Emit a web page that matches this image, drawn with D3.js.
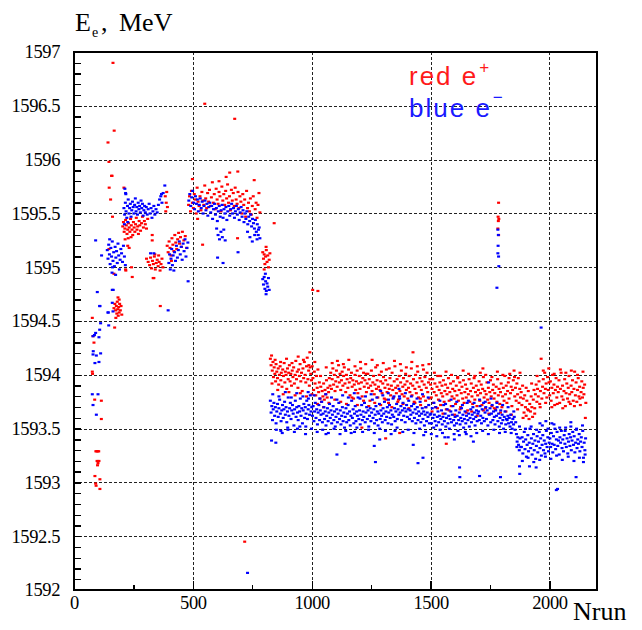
<!DOCTYPE html>
<html><head><meta charset="utf-8">
<script src="https://cdn.jsdelivr.net/npm/d3@7"></script>
<style>
html,body{margin:0;padding:0;background:#fff;}
svg{display:block;}
.tick text{font-family:"Liberation Serif","Times New Roman",serif;font-size:18.5px;fill:#000;}
</style></head>
<body>
<svg id="c" width="642" height="630"></svg>
<script>
// ---------------- data (Nrun, E in MeV) ----------------
const xTickLabels = [0, 500, 1000, 1500, 2000];
const yTickLabels = [1592, 1592.5, 1593, 1593.5, 1594, 1594.5, 1595, 1595.5, 1596, 1596.5, 1597];
const xMinorTicks = [250, 750, 1250, 1750];

// red (e+) : early runs and outliers
const redEarly = [[164,1596.90],[143,1596.16],[169,1596.27],[147,1595.98],[158,1595.85],[160,1595.85],[148,1595.74],[154,1595.63],[162,1595.47],
[77,1594.53],[84,1594.30],[80,1594.36],[77,1594.03],[78,1594.01],[87,1593.77],[115,1593.76],[115,1593.59],
[92,1593.29],[96,1593.29],[100,1593.29],[104,1593.29],[97,1593.20],[101,1593.18],[105,1593.20],[99,1593.16],[88,1593.06],[91,1592.99],[109,1593.03],[109,1592.94],[93,1592.97],
[168,1594.62],[172,1594.66],[175,1594.60],[178,1594.64],[180,1594.57],[182,1594.68],[184,1594.61],[186,1594.55],[188,1594.63],[190,1594.58],[192,1594.66],[195,1594.60],[198,1594.64],[201,1594.56],[176,1594.53],[171,1594.44],[190,1594.70],[185,1594.72],
[147,1595.17],[168,1594.94],[217,1594.98],[210,1595.74],[242,1595.00],[218,1594.97],[333,1594.90],[305,1595.08]];
const redCluster200 = [[205,1595.38],[208,1595.42],[211,1595.33],[214,1595.36],[217,1595.44],[220,1595.39],[223,1595.31],[226,1595.35],[229,1595.41],[232,1595.37],[235,1595.33],[238,1595.45],[241,1595.39],[244,1595.35],[247,1595.30],[250,1595.42],[253,1595.37],[256,1595.33],[259,1595.40],[262,1595.46],[265,1595.35],[268,1595.38],[271,1595.31],[274,1595.43],[277,1595.39],[280,1595.34],[284,1595.41],[288,1595.47],[292,1595.37],[296,1595.43],[300,1595.40],[305,1595.36],[310,1595.45],[240,1595.28],[228,1595.27],[215,1595.26],[245,1594.91],[226,1595.20],[232,1595.18]];
const redCluster350 = [[312,1595.05],[318,1595.02],[322,1595.09],[326,1594.99],[330,1595.06],[334,1595.03],[338,1595.10],[342,1594.98],[346,1595.04],[350,1595.07],[354,1595.01],[358,1595.05],[362,1594.97],[366,1595.03],[370,1595.08],[374,1595.00],[340,1595.12],[356,1595.11],[336,1594.90],[363,1594.64],[329,1595.30],[329,1595.25],
[392,1595.20],[396,1595.14],[400,1595.24],[404,1595.18],[408,1595.11],[412,1595.27],[416,1595.21],[420,1595.15],[424,1595.30],[428,1595.23],[432,1595.17],[436,1595.26],[440,1595.32],[444,1595.22],[448,1595.28],[452,1595.19],[456,1595.33],[462,1595.25],[468,1595.29],[474,1595.18],[410,1595.06],[384,1595.66],[388,1595.60],[390,1595.70],[393,1595.56],[386,1595.52]];
const redTop = [[482,1595.58],[486,1595.66],[490,1595.52],[494,1595.71],[498,1595.60],[502,1595.55],[506,1595.68],[510,1595.63],[514,1595.50],[518,1595.74],[522,1595.61],[526,1595.57],[530,1595.66],[534,1595.53],[538,1595.70],[542,1595.62],[546,1595.58],[550,1595.76],[554,1595.64],[558,1595.55],[562,1595.69],[566,1595.61],[570,1595.72],[574,1595.57],[578,1595.65],[582,1595.79],[586,1595.60],[590,1595.68],[594,1595.54],[598,1595.73],[602,1595.63],[606,1595.59],[610,1595.70],[614,1595.66],[618,1595.52],[622,1595.75],[626,1595.62],[630,1595.68],[634,1595.58],[638,1595.71],[642,1595.64],[646,1595.77],[650,1595.60],[654,1595.66],[658,1595.53],[662,1595.72],[666,1595.62],[670,1595.69],[674,1595.57],[678,1595.74],[682,1595.63],[686,1595.59],[690,1595.70],[694,1595.55],[698,1595.66],[702,1595.61],[706,1595.50],[710,1595.68],[714,1595.58],[718,1595.63],[722,1595.47],[726,1595.71],[730,1595.55],[734,1595.60],[738,1595.52],[742,1595.64],[746,1595.49],[750,1595.57],[754,1595.66],[758,1595.81],[762,1595.54],[766,1595.60],[770,1595.46],[774,1595.58],[778,1595.69],[782,1595.51],
[655,1595.88],[689,1595.89],[541,1595.21],[688,1595.27],[842,1595.41],[550,1596.52],[676,1596.38],[718,1592.45],[498,1595.82],[520,1595.45],[610,1595.80],[640,1595.84],
[794,1595.14],[797,1595.08],[800,1595.12],[803,1595.03],[806,1595.10],[809,1595.16],[812,1595.05],[815,1595.11],[818,1595.00],[821,1595.07],[824,1595.13],[800,1594.98],[808,1595.19],
[1004,1594.79],[1026,1594.78],[1786,1595.60],[1784,1595.47],[1787,1595.45],[1785,1595.43],[1783,1595.36],[1786,1595.30]];
const redPlateau = [[826,1594.15],[829,1594.09],[831,1594.18],[834,1594.04],[837,1594.12],[839,1593.98],[842,1594.07],[845,1594.01],[848,1593.94],[850,1594.10],
[853,1594.03],[856,1593.97],[859,1594.06],[861,1593.91],[864,1594.00],[867,1594.08],[870,1593.95],[872,1594.02],[875,1593.89],[878,1594.05],
[881,1593.99],[884,1594.11],[887,1593.93],[889,1594.03],[892,1594.00],[895,1593.87],[898,1594.06],[901,1593.96],[903,1594.02],[906,1594.09],
[909,1593.94],[912,1594.01],[915,1593.90],[918,1594.04],[921,1593.98],[924,1594.07],[927,1593.92],[930,1594.00],[933,1594.13],[936,1593.96],
[939,1594.03],[942,1593.88],[945,1594.05],[948,1593.99],[951,1594.10],[954,1593.94],[957,1594.02],[960,1593.85],[963,1594.06],[966,1593.97],
[969,1594.12],[972,1594.00],[975,1593.93],[978,1594.08],[981,1594.16],[984,1593.96],[987,1594.04],[990,1593.90],[992,1594.21],[993,1594.07],[996,1594.01],[999,1593.95],
[1002,1594.08],[1005,1593.97],[1008,1593.86],[1011,1594.03],[1014,1593.92],[1017,1593.81],[1020,1593.99],[1023,1593.88],[1026,1594.05],[1029,1593.84],
[1032,1593.93],[1035,1593.78],[1038,1593.89],[1041,1593.75],[1044,1593.85],[1047,1593.80],[1050,1593.92],[1053,1593.77],[1056,1593.86],[1059,1593.82],
[1062,1593.95],[1065,1593.79],[1068,1593.88],[1071,1593.84],[1074,1593.97],[1077,1593.90],[1080,1594.02],[1083,1593.87],[1086,1593.96],[1089,1594.06],
[1092,1593.91],[1095,1594.00],[1098,1593.85],[1101,1593.94],[1104,1594.04],[1107,1593.89],[1110,1593.98],[1113,1594.09],[1116,1593.93],[1119,1594.01],
[1122,1593.86],[1125,1593.95],[1128,1594.03],[1131,1593.90],[1134,1593.99],[1137,1594.07],[1140,1593.92],[1143,1593.84],[1146,1594.00],[1149,1593.96],
[1152,1593.88],[1155,1594.05],[1158,1593.93],[1161,1593.81],[1164,1593.97],[1167,1594.02],[1170,1593.89],[1173,1593.95],[1176,1593.78],[1179,1593.91],
[1182,1594.00],[1185,1593.86],[1188,1593.94],[1191,1594.04],[1194,1593.83],[1197,1593.92],
[1200,1593.99],[1203,1593.87],[1206,1594.06],[1209,1593.93],[1212,1593.80],[1215,1593.97],[1218,1594.02],[1221,1593.89],[1224,1593.95],[1227,1594.10],
[1230,1593.84],[1233,1593.92],[1236,1594.01],[1239,1593.88],[1242,1593.96],[1245,1593.76],[1248,1593.90],[1251,1594.04],[1254,1593.85],[1257,1593.93],
[1260,1593.99],[1263,1593.82],[1266,1593.91],[1269,1594.07],[1272,1593.87],[1275,1593.95],[1278,1593.79],[1281,1593.89],[1284,1594.00],[1287,1593.86],
[1290,1593.94],[1293,1594.03],[1296,1593.83],[1299,1593.92],[1302,1593.98],[1305,1593.78],[1308,1593.88],[1311,1593.95],[1314,1594.05],[1317,1593.84],
[1320,1593.91],[1323,1593.74],[1326,1593.87],[1329,1593.97],[1332,1593.81],[1335,1593.90],[1338,1594.02],[1341,1593.86],[1344,1593.79],[1347,1593.94],
[1350,1594.08],[1353,1593.88],[1356,1593.83],[1359,1593.96],[1362,1593.90],[1365,1593.77],[1368,1593.99],[1371,1593.85],[1374,1593.93],[1377,1594.04],
[1380,1593.82],[1383,1593.89],[1386,1593.97],[1389,1593.80],[1392,1593.91],[1395,1594.01],[1398,1593.86],[1401,1593.94],[1404,1593.78],[1407,1593.88],
[1410,1593.99],[1413,1593.84],[1416,1593.92],[1419,1594.06],[1422,1593.81],[1425,1593.90],[1428,1593.96],[1431,1593.75],[1434,1593.87],[1437,1594.00],
[1440,1593.83],[1443,1593.93],[1446,1594.03],[1449,1593.79],[1452,1593.89],[1455,1593.97],[1458,1593.72],[1461,1593.86],[1464,1593.94],[1467,1594.09],
[1470,1593.80],[1473,1593.91],[1476,1593.98],[1479,1593.76],[1482,1593.88],[1485,1594.02],[1488,1593.84],[1491,1593.93],[1494,1593.78],[1497,1593.96],
[1426,1594.21],[1311,1593.41],[1370,1593.46],[1211,1593.51],
[1500,1593.91],[1503,1593.79],[1506,1593.87],[1509,1593.96],[1512,1593.74],[1515,1593.84],[1518,1593.92],[1521,1593.70],[1524,1593.81],[1527,1593.89],
[1530,1593.99],[1533,1593.77],[1536,1593.86],[1539,1593.93],[1542,1593.72],[1545,1593.83],[1548,1593.90],[1551,1593.80],[1554,1593.95],[1557,1593.75],
[1560,1593.85],[1563,1593.91],[1566,1593.68],[1569,1593.82],[1572,1593.88],[1575,1593.97],[1578,1593.76],[1581,1593.84],[1584,1593.92],[1587,1593.71],
[1590,1593.80],[1593,1593.87],[1596,1593.94],[1599,1593.78],[1602,1593.85],[1605,1593.73],[1608,1593.90],[1611,1593.81],[1614,1593.98],[1617,1593.76],
[1620,1593.86],[1623,1593.93],[1626,1593.70],[1629,1593.83],[1632,1593.89],[1635,1593.78],[1638,1593.95],[1641,1593.74],[1644,1593.84],[1647,1593.91],
[1650,1593.79],[1653,1593.87],[1656,1593.67],[1659,1593.82],[1662,1593.96],[1665,1593.75],[1668,1593.85],[1671,1593.92],[1674,1593.80],[1677,1593.73],
[1680,1593.88],[1683,1593.97],[1686,1593.77],[1689,1593.84],[1692,1593.90],[1695,1593.71],[1698,1593.81],[1566,1593.36],[1720,1594.06],
[1701,1593.86],[1704,1593.94],[1707,1593.76],[1710,1593.83],[1713,1593.91],[1716,1593.72],[1719,1593.87],[1722,1593.98],[1725,1593.79],[1728,1593.85],
[1731,1593.69],[1734,1593.82],[1737,1593.93],[1740,1593.77],[1743,1593.88],[1746,1593.74],[1749,1593.84],[1752,1593.95],[1755,1593.80],[1758,1593.71],
[1761,1593.86],[1764,1593.91],[1767,1593.78],[1770,1593.83],[1773,1593.68],[1776,1593.89],[1779,1593.75],[1782,1593.96],[1785,1593.81],[1788,1593.87],
[1791,1593.73],[1794,1593.84],[1797,1593.92],[1800,1593.70],[1803,1593.80],[1806,1593.88],[1809,1593.76],[1812,1593.99],[1815,1593.82],[1818,1593.90],
[1821,1593.74],[1824,1593.85],[1827,1593.93],[1830,1593.78],[1833,1594.01],[1836,1593.83],[1839,1593.89],[1842,1593.71],[1845,1593.86],[1848,1593.95],
[1851,1594.04],[1854,1593.80],[1857,1593.88],[1860,1593.76],[1863,1593.92],[1866,1593.82],[1869,1593.97],[1872,1593.74],[1875,1593.87],[1878,1593.79],
[1881,1593.84],[1884,1593.72],[1887,1593.90],[1890,1593.78],[1893,1593.65],[1896,1593.81],[1899,1593.70],[1902,1593.62],[1905,1593.76],[1908,1593.68],
[1911,1593.85],[1914,1593.59],[1917,1593.73],[1920,1593.66],[1923,1593.80],[1926,1593.70],[1929,1593.61],[1932,1593.77],[1935,1593.86],[1938,1593.69],
[1941,1593.82],[1944,1593.91],[1947,1593.75],[1950,1593.87],[1953,1593.80],[1956,1593.94],[1959,1593.73],[1962,1593.85],[1965,1594.15],[1968,1593.78],
[1971,1593.89],[1974,1593.96],[1977,1593.83],[1980,1594.02],[1983,1593.87],[1986,1593.92],[1989,1593.79],[1992,1593.98],[1995,1593.86],[1998,1593.93],
[2001,1593.81],[2004,1593.94],[2007,1593.76],[2010,1593.88],[2013,1594.00],[2016,1593.83],[2019,1593.91],[2022,1593.72],[2025,1593.86],[2028,1593.97],
[2031,1593.79],[2034,1593.89],[2037,1593.84],[2040,1593.95],[2043,1593.74],[2046,1593.87],[2049,1594.02],[2052,1593.80],[2055,1593.90],[2058,1593.77],
[2061,1593.85],[2064,1593.96],[2067,1593.71],[2070,1593.83],[2073,1593.92],[2076,1593.78],[2079,1593.88],[2082,1593.99],[2085,1593.82],[2088,1593.73],
[2091,1593.90],[2094,1593.84],[2097,1593.95],[2100,1593.76],[2103,1593.87],[2106,1594.03],[2109,1593.81],[2112,1593.93],[2115,1593.75],[2118,1593.86],
[2121,1593.97],[2124,1593.80],[2127,1593.89],[2130,1593.72],[2133,1593.84],[2136,1593.94],[2139,1593.79],[2142,1593.88],[2145,1593.82],[2148,1593.91],[2151,1593.60]];
const redPlateauExtra = [[833,1593.92],[846,1594.14],[857,1593.86],[869,1594.12],[880,1593.82],[894,1594.15],[904,1593.84],[917,1594.11],[930,1593.81],[943,1594.17],[952,1593.83],[965,1594.14],[978,1593.80],[988,1594.09],[1001,1593.82],[1013,1594.12],[1024,1593.73],[1037,1593.99],[1050,1593.70],[1061,1594.07],[1072,1593.74],[1086,1594.11],[1097,1593.77],[1108,1594.13],[1122,1593.75],[1133,1594.10],[1146,1593.73],[1156,1594.14],[1169,1593.79],[1182,1594.08],[1192,1593.72],[1205,1594.12],[1218,1593.76],[1229,1594.01],[1240,1593.71],[1254,1594.14],[1265,1593.74],[1276,1594.09],[1290,1593.72],[1301,1594.11],[1312,1593.77],[1326,1594.06],[1337,1593.70],[1348,1594.13],[1362,1593.75],[1373,1594.10],[1384,1593.73],[1398,1594.07],[1409,1593.69],[1421,1594.12],[1434,1593.74],[1444,1594.08],[1457,1593.78],[1470,1594.05],[1480,1593.70],[1493,1594.10],[1506,1593.66],[1516,1594.02],[1529,1593.69],[1542,1593.99],[1552,1593.64],[1565,1594.03],[1578,1593.67],[1588,1594.00],[1601,1593.63],[1614,1593.97],[1624,1593.68],[1637,1594.04],[1650,1593.65],[1660,1594.01],[1673,1593.66],[1686,1593.99],[1696,1593.62],[1709,1594.02],[1722,1593.67],[1732,1594.00],[1745,1593.64],[1758,1593.98],[1768,1593.69],[1781,1594.03],[1794,1593.65],[1804,1594.00],[1817,1593.66],[1830,1593.97],[1840,1593.63],[1853,1593.98],[1866,1593.68],[1876,1594.02],[1889,1593.60],[1902,1593.88],[1912,1593.67],[1925,1593.92],[1938,1593.64],[1948,1593.99],[1961,1593.70],[1974,1594.04],[1984,1593.74],[1997,1594.06],[2010,1593.70],[2020,1594.01],[2033,1593.73],[2046,1594.05],[2056,1593.69],[2069,1594.02],[2082,1593.75],[2092,1594.04],[2105,1593.71],[2118,1594.00],[2128,1593.78],[2141,1594.03],[2153,1593.74]];

// blue (e-)
const blueEarly = [[108,1594.64],[143,1594.58],[164,1594.59],[396,1594.60],[112,1594.48],[146,1594.46],[108,1594.42],[91,1594.39],[80,1594.36],[105,1594.35],[81,1594.22],[80,1594.19],[94,1594.18],[112,1594.20],[105,1594.12],[88,1594.11],[77,1593.82],[101,1593.82],[80,1593.72],[94,1593.63],
[91,1595.25],[116,1595.11],[98,1594.77],[109,1594.64],[161,1594.79],[161,1594.67],[162,1595.00],[165,1594.79],[144,1594.58],[86,1594.37],
[140,1595.16],[143,1595.08],[146,1595.21],[149,1595.12],[152,1595.03],[155,1595.18],[158,1595.10],[161,1595.24],[164,1595.06],[167,1595.14],[170,1595.01],[173,1595.19],[176,1595.09],[179,1595.15],[182,1595.04],[185,1595.22],[188,1595.11],[191,1594.98],[194,1595.07],[197,1595.17],[200,1595.13],[204,1595.05],[208,1595.20],[212,1595.10],[216,1595.02],[150,1595.26],[160,1594.95],[175,1594.93]];
const blueCluster250 = [[210,1595.55],[213,1595.49],[216,1595.60],[219,1595.52],[222,1595.46],[225,1595.57],[228,1595.63],[231,1595.50],[234,1595.55],[237,1595.59],[240,1595.47],[243,1595.53],[246,1595.61],[249,1595.56],[252,1595.50],[255,1595.58],[258,1595.64],[261,1595.52],[264,1595.56],[267,1595.49],[270,1595.60],[273,1595.54],[276,1595.57],[279,1595.51],[282,1595.62],[285,1595.55],[288,1595.59],[291,1595.48],[294,1595.53],[297,1595.57],[300,1595.51],[304,1595.56],[308,1595.49],[312,1595.54],[316,1595.59],[320,1595.50],[324,1595.55],[328,1595.46],[332,1595.52],[336,1595.57],[340,1595.49],[345,1595.54],[350,1595.51],[355,1595.58],[360,1595.63],[365,1595.66],[370,1595.60],[375,1595.69],[382,1595.76],[368,1595.68],[214,1595.73],[218,1595.68],[217,1595.69],[212,1595.40],[226,1595.42],[322,1595.13],[336,1595.13],
[399,1595.04],[402,1595.12],[405,1594.98],[408,1595.08],[411,1595.17],[414,1595.02],[417,1595.11],[420,1594.97],[423,1595.14],[427,1595.06],[431,1595.20],[435,1595.09],[439,1595.16],[443,1595.24],[447,1595.12],[451,1595.19],[455,1595.07],[459,1595.22],[463,1595.15],[467,1595.26],[471,1595.10],[475,1595.18],[479,1595.23],[480,1594.87]];
const blueTop = [[483,1595.62],[487,1595.68],[491,1595.57],[495,1595.65],[499,1595.71],[503,1595.60],[507,1595.54],[511,1595.66],[515,1595.59],[519,1595.63],[523,1595.52],[527,1595.58],[531,1595.64],[535,1595.55],[539,1595.61],[543,1595.50],[547,1595.57],[551,1595.62],[555,1595.53],[559,1595.59],[563,1595.48],[567,1595.56],[571,1595.60],[575,1595.51],[579,1595.57],[583,1595.45],[587,1595.54],[591,1595.59],[595,1595.49],[599,1595.55],[603,1595.43],[607,1595.52],[611,1595.57],[615,1595.47],[619,1595.53],[623,1595.58],[627,1595.46],[631,1595.54],[635,1595.50],[639,1595.56],[643,1595.44],[647,1595.52],[651,1595.57],[655,1595.48],[659,1595.54],[663,1595.59],[667,1595.50],[671,1595.55],[675,1595.46],[679,1595.52],[683,1595.57],[687,1595.49],[691,1595.54],[695,1595.44],[699,1595.51],[703,1595.56],[707,1595.47],[711,1595.53],[715,1595.42],[719,1595.50],[723,1595.45],[727,1595.52],[731,1595.40],[735,1595.47],[739,1595.43],[743,1595.49],[747,1595.38],[751,1595.45],[755,1595.41],[759,1595.36],[763,1595.44],[767,1595.33],[771,1595.40],[775,1595.30],[779,1595.37],[782,1595.27],
[600,1595.36],[606,1595.30],[612,1595.26],[618,1595.33],[624,1595.28],[630,1595.35],[636,1595.25],[730,1595.33],[740,1595.28],[750,1595.24],[760,1595.30],[770,1595.26],[776,1595.35],
[690,1595.14],[604,1595.09],[627,1595.04],[730,1592.16],
[794,1594.89],[797,1594.84],[800,1594.91],[803,1594.80],[806,1594.87],[809,1594.78],[812,1594.85],[815,1594.82],[818,1594.90],[821,1594.79],[805,1594.94],[808,1594.75],
[1783,1595.35],[1785,1595.30],[1784,1595.20],[1783,1595.13],[1786,1595.10],[1787,1595.01],[1779,1594.81],[1965,1594.44]];
const bluePlateau = [[826,1593.76],[829,1593.65],[832,1593.71],[835,1593.58],[838,1593.68],[841,1593.74],[844,1593.62],[847,1593.70],[850,1593.55],[853,1593.66],
[856,1593.73],[859,1593.61],[862,1593.69],[865,1593.77],[868,1593.64],[871,1593.57],[874,1593.67],[877,1593.72],[880,1593.60],[883,1593.68],
[886,1593.75],[889,1593.63],[892,1593.70],[895,1593.56],[898,1593.66],[901,1593.79],[904,1593.62],[907,1593.69],[910,1593.74],[913,1593.59],
[916,1593.67],[919,1593.72],[922,1593.64],[925,1593.53],[928,1593.68],[931,1593.76],[934,1593.61],[937,1593.70],[940,1593.65],[943,1593.58],
[946,1593.71],[949,1593.66],[952,1593.78],[955,1593.62],[958,1593.69],[961,1593.55],[964,1593.67],[967,1593.73],[970,1593.60],[973,1593.70],
[976,1593.64],[979,1593.76],[982,1593.59],[985,1593.68],[988,1593.72],[991,1593.63],[994,1593.81],[997,1593.66],[1000,1593.70],
[831,1593.39],[849,1593.37],[870,1593.48],[900,1593.49],[940,1593.50],[975,1593.52],[985,1593.84],
[1003,1593.62],[1006,1593.71],[1009,1593.57],[1012,1593.66],[1015,1593.74],[1018,1593.60],[1021,1593.68],[1024,1593.54],[1027,1593.65],[1030,1593.72],
[1033,1593.58],[1036,1593.67],[1039,1593.63],[1042,1593.75],[1045,1593.56],[1048,1593.64],[1051,1593.70],[1054,1593.59],[1057,1593.66],[1060,1593.53],
[1063,1593.62],[1066,1593.69],[1069,1593.57],[1072,1593.65],[1075,1593.73],[1078,1593.60],[1081,1593.67],[1084,1593.55],[1087,1593.63],[1090,1593.71],
[1093,1593.58],[1096,1593.66],[1099,1593.52],[1102,1593.61],[1105,1593.68],[1108,1593.56],[1111,1593.64],[1114,1593.74],[1117,1593.59],[1120,1593.67],
[1123,1593.54],[1126,1593.62],[1129,1593.70],[1132,1593.57],[1135,1593.65],[1138,1593.51],[1141,1593.61],[1144,1593.69],[1147,1593.56],[1150,1593.64],
[1153,1593.72],[1156,1593.58],[1159,1593.66],[1162,1593.53],[1165,1593.62],[1168,1593.76],[1171,1593.60],[1174,1593.68],[1177,1593.55],[1180,1593.64],
[1183,1593.71],[1186,1593.57],[1189,1593.66],[1192,1593.62],[1195,1593.79],[1198,1593.59],
[1201,1593.67],[1204,1593.54],[1207,1593.63],[1210,1593.72],[1213,1593.58],[1216,1593.66],[1219,1593.61],[1222,1593.74],[1225,1593.56],[1228,1593.65],
[1231,1593.70],[1234,1593.59],[1237,1593.67],[1240,1593.52],[1243,1593.62],[1246,1593.69],[1249,1593.57],[1252,1593.65],[1255,1593.77],[1258,1593.60],
[1261,1593.68],[1264,1593.55],[1267,1593.63],[1270,1593.71],[1273,1593.58],[1276,1593.66],[1279,1593.53],[1282,1593.64],[1285,1593.73],[1288,1593.59],
[1291,1593.67],[1294,1593.62],[1297,1593.56],[1300,1593.69],[1303,1593.64],[1306,1593.75],[1309,1593.58],[1312,1593.66],[1315,1593.61],[1318,1593.70],
[1321,1593.55],[1324,1593.65],[1327,1593.72],[1330,1593.60],[1333,1593.67],[1336,1593.54],[1339,1593.63],[1342,1593.78],[1345,1593.61],[1348,1593.69],
[1351,1593.57],[1354,1593.66],[1357,1593.73],[1360,1593.59],[1363,1593.68],[1366,1593.63],[1369,1593.80],[1372,1593.65],[1375,1593.71],[1378,1593.58],
[1381,1593.67],[1384,1593.74],[1387,1593.62],[1390,1593.69],[1393,1593.56],[1396,1593.66],[1399,1593.72],[1402,1593.61],[1405,1593.68],[1408,1593.76],
[1411,1593.59],[1414,1593.67],[1417,1593.63],[1420,1593.71],[1423,1593.57],[1426,1593.65],[1429,1593.73],[1432,1593.60],[1435,1593.68],[1438,1593.55],
[1441,1593.64],[1444,1593.70],[1447,1593.58],[1450,1593.66],[1453,1593.62],[1456,1593.75],[1459,1593.56],[1462,1593.64],[1465,1593.69],[1468,1593.59],
[1471,1593.66],[1474,1593.53],[1477,1593.63],[1480,1593.70],[1483,1593.57],[1486,1593.65],[1489,1593.61],[1492,1593.72],[1495,1593.55],[1498,1593.63],
[1106,1593.26],[1268,1593.19],[1140,1593.36],[1263,1593.34],[1286,1593.40],[1427,1593.35],[1447,1593.18],[1468,1593.23],[1471,1593.44],[1060,1593.45],[1180,1593.47],[1350,1593.48],[1367,1593.87],[1322,1593.83],[1290,1593.85],
[1501,1593.64],[1504,1593.55],[1507,1593.69],[1510,1593.60],[1513,1593.51],[1516,1593.63],[1519,1593.57],[1522,1593.70],[1525,1593.53],[1528,1593.61],
[1531,1593.66],[1534,1593.56],[1537,1593.62],[1540,1593.49],[1543,1593.59],[1546,1593.67],[1549,1593.54],[1552,1593.61],[1555,1593.72],[1558,1593.57],
[1561,1593.64],[1564,1593.52],[1567,1593.60],[1570,1593.68],[1573,1593.55],[1576,1593.62],[1579,1593.50],[1582,1593.59],[1585,1593.66],[1588,1593.56],
[1591,1593.63],[1594,1593.71],[1597,1593.58],[1600,1593.53],[1603,1593.61],[1606,1593.67],[1609,1593.55],[1612,1593.62],[1615,1593.48],[1618,1593.58],
[1621,1593.65],[1624,1593.54],[1627,1593.60],[1630,1593.69],[1633,1593.57],[1636,1593.63],[1639,1593.51],[1642,1593.59],[1645,1593.66],[1648,1593.55],
[1651,1593.62],[1654,1593.74],[1657,1593.58],[1660,1593.64],[1663,1593.52],[1666,1593.60],[1669,1593.68],[1672,1593.56],[1675,1593.63],[1678,1593.70],
[1681,1593.59],[1684,1593.65],[1687,1593.53],[1690,1593.61],[1693,1593.67],[1696,1593.57],[1699,1593.64],
[1622,1593.14],[1623,1593.05],[1706,1593.06],[1560,1593.42],[1600,1593.40],[1650,1593.45],[1680,1593.38],
[1702,1593.66],[1705,1593.58],[1708,1593.71],[1711,1593.62],[1714,1593.55],[1717,1593.68],[1720,1593.60],[1723,1593.74],[1726,1593.57],[1729,1593.65],
[1732,1593.70],[1735,1593.59],[1738,1593.67],[1741,1593.53],[1744,1593.93],[1747,1593.63],[1750,1593.69],[1753,1593.56],[1756,1593.64],[1759,1593.72],
[1762,1593.58],[1765,1593.66],[1768,1593.61],[1771,1593.54],[1774,1593.67],[1777,1593.62],[1780,1593.70],[1783,1593.57],[1786,1593.64],[1789,1593.52],
[1792,1593.60],[1795,1593.67],[1798,1593.55],[1801,1593.63],[1804,1593.58],[1807,1593.50],[1810,1593.61],[1813,1593.66],[1816,1593.54],[1819,1593.59],
[1822,1593.58],[1825,1593.62],[1828,1593.55],[1831,1593.60],[1834,1593.52],[1837,1593.63],[1840,1593.56],[1843,1593.50],[1846,1593.59],[1849,1593.54],
[1852,1593.61],[1855,1593.49],[1858,1593.56],[1861,1593.45],[1864,1593.38],[1867,1593.42],[1870,1593.35],[1873,1593.30],[1876,1593.41],[1879,1593.33],
[1794,1593.05],[1874,1593.15],[1875,1593.08],
[1882,1593.33],[1885,1593.42],[1888,1593.27],[1891,1593.38],[1894,1593.47],[1897,1593.31],[1900,1593.40],[1903,1593.24],[1906,1593.35],[1909,1593.44],
[1912,1593.29],[1915,1593.37],[1918,1593.50],[1921,1593.32],[1924,1593.41],[1927,1593.26],[1930,1593.36],[1933,1593.45],[1936,1593.30],[1939,1593.39],
[1942,1593.22],[1945,1593.34],[1948,1593.43],[1951,1593.28],[1954,1593.38],[1957,1593.47],[1960,1593.32],[1963,1593.41],[1966,1593.25],[1969,1593.35],
[1972,1593.44],[1975,1593.30],[1978,1593.39],[1981,1593.27],[1984,1593.36],[1987,1593.48],[1990,1593.33],[1993,1593.42],[1996,1593.29],[1999,1593.37],
[1916,1593.15],[1944,1593.14],[1960,1593.55],[1985,1593.57],
[2002,1593.41],[2005,1593.33],[2008,1593.46],[2011,1593.36],[2014,1593.28],[2017,1593.43],[2020,1593.35],[2023,1593.50],[2026,1593.31],[2029,1593.40],
[2032,1593.47],[2035,1593.34],[2038,1593.39],[2041,1593.26],[2044,1593.42],[2047,1593.37],[2050,1593.48],[2053,1593.32],[2056,1593.40],[2059,1593.29],
[2062,1593.44],[2065,1593.36],[2068,1593.51],[2071,1593.33],[2074,1593.41],[2077,1593.27],[2080,1593.38],[2083,1593.45],[2086,1593.34],[2089,1593.42],
[2092,1593.30],[2095,1593.39],[2098,1593.47],[2101,1593.35],[2104,1593.43],[2107,1593.28],[2110,1593.37],[2113,1593.49],[2116,1593.32],[2119,1593.40],
[2122,1593.36],[2125,1593.45],[2128,1593.29],[2131,1593.38],[2134,1593.42],[2137,1593.33],[2140,1593.48],[2143,1593.23],[2146,1593.37],[2149,1593.30],[2152,1593.41],
[2029,1592.93],[2034,1592.94],[2112,1593.05],[2143,1593.19],[2010,1593.55],[2090,1593.56]];
const bluePlateauExtra = [[836,1593.82],[851,1593.49],[862,1593.80],[876,1593.46],[889,1593.84],[899,1593.51],[914,1593.79],[927,1593.47],[937,1593.83],[950,1593.52],[963,1593.80],[974,1593.45],[986,1593.78],[999,1593.50],[1010,1593.81],[1023,1593.47],[1034,1593.78],[1046,1593.49],[1059,1593.82],[1070,1593.46],[1083,1593.79],[1094,1593.50],[1106,1593.77],[1119,1593.45],[1130,1593.81],[1143,1593.48],[1154,1593.79],[1166,1593.46],[1179,1593.83],[1190,1593.51],[1203,1593.78],[1214,1593.47],[1226,1593.80],[1239,1593.49],[1250,1593.82],[1263,1593.46],[1274,1593.79],[1286,1593.50],[1299,1593.81],[1310,1593.48],[1323,1593.77],[1334,1593.45],[1346,1593.80],[1359,1593.51],[1370,1593.78],[1383,1593.47],[1394,1593.83],[1406,1593.49],[1419,1593.80],[1430,1593.46],[1443,1593.78],[1454,1593.50],[1466,1593.82],[1479,1593.47],[1490,1593.79],[1503,1593.45],[1514,1593.74],[1526,1593.43],[1539,1593.76],[1550,1593.46],[1563,1593.73],[1574,1593.42],[1586,1593.77],[1599,1593.45],[1610,1593.75],[1621,1593.44],[1634,1593.72],[1646,1593.47],[1659,1593.76],[1670,1593.43],[1683,1593.74],[1694,1593.46],[1706,1593.77],[1719,1593.48],[1730,1593.75],[1743,1593.45],[1754,1593.78],[1766,1593.49],[1779,1593.74],[1790,1593.46],[1803,1593.72],[1814,1593.47],[1826,1593.70],[1839,1593.46],[1850,1593.66],[1863,1593.33],[1874,1593.52],[1886,1593.20],[1899,1593.50],[1910,1593.23],[1923,1593.52],[1934,1593.19],[1946,1593.49],[1959,1593.21],[1970,1593.53],[1983,1593.24],[1994,1593.50],[2006,1593.22],[2019,1593.54],[2030,1593.25],[2043,1593.51],[2054,1593.21],[2066,1593.48],[2079,1593.24],[2090,1593.52],[2103,1593.20],[2114,1593.50],[2126,1593.23],[2139,1593.53],[2150,1593.26]];

const redPoints = [].concat(redEarly, redCluster200, redCluster350, redTop, redPlateau, redPlateauExtra);
const bluePoints = [].concat(blueEarly, blueCluster250, blueTop, bluePlateau, bluePlateauExtra);

// ---------------- chart ----------------
const L = 74, R = 597, T = 52, B = 590;
const svg = d3.select("#c");
const x = d3.scaleLinear().domain([0, 2200]).range([L, R]);
const y = d3.scaleLinear().domain([1592, 1597]).range([B, T]);

// grid (dotted)
const gx = svg.append("g").attr("transform", `translate(0,${B})`)
  .call(d3.axisBottom(x).tickValues(xTickLabels.filter(v => v > 0)).tickSize(-(B - T)).tickFormat(""));
const gy = svg.append("g").attr("transform", `translate(${L},0)`)
  .call(d3.axisLeft(y).tickValues(yTickLabels.filter(v => v > 1592 && v < 1597)).tickSize(-(R - L)).tickFormat(""));
[gx, gy].forEach(g => {
  g.select(".domain").remove();
  g.selectAll("line").attr("stroke", "#222").attr("stroke-width", 1).attr("stroke-dasharray", "3,2").attr("shape-rendering", "crispEdges");
});

// minor ticks (inside)
const my = svg.append("g").attr("transform", `translate(${L},0)`)
  .call(d3.axisLeft(y).tickValues(y.ticks(50)).tickSize(-7).tickFormat(""));
const mx = svg.append("g").attr("transform", `translate(0,${B})`)
  .call(d3.axisBottom(x).tickValues(xMinorTicks).tickSize(-5).tickFormat(""));
const Mx = svg.append("g").attr("transform", `translate(0,${B})`)
  .call(d3.axisBottom(x).tickValues(xTickLabels).tickSize(-9).tickFormat(""));
[my, mx, Mx].forEach(g => {
  g.select(".domain").remove();
  g.selectAll("line").attr("stroke", "#000").attr("stroke-width", 1.3).attr("shape-rendering", "crispEdges");
});

// tick labels
const ly = svg.append("g").attr("transform", `translate(${L},0)`)
  .call(d3.axisLeft(y).tickValues(yTickLabels).tickSize(0).tickPadding(14).tickFormat(d => String(d)));
const lx = svg.append("g").attr("transform", `translate(0,${B})`)
  .call(d3.axisBottom(x).tickValues(xTickLabels).tickSize(0).tickPadding(6).tickFormat(d => String(d)));
[ly, lx].forEach(g => g.select(".domain").remove());
ly.selectAll("text").attr("letter-spacing", "-0.4");
lx.selectAll("text").attr("letter-spacing", "-0.4");

// points
const plot = svg.append("g");
plot.selectAll("rect.r").data(redPoints).join("rect").attr("class", "r")
  .attr("x", d => x(d[0]) - 1.5).attr("y", d => y(d[1]) - 1)
  .attr("width", 3).attr("height", 2.2).attr("fill", "#ff0000");
plot.selectAll("rect.b").data(bluePoints).join("rect").attr("class", "b")
  .attr("x", d => x(d[0]) - 1.5).attr("y", d => y(d[1]) - 1)
  .attr("width", 3).attr("height", 2.2).attr("fill", "#0000ff");

// frame
svg.append("rect").attr("x", L).attr("y", T).attr("width", R - L).attr("height", B - T)
  .attr("fill", "none").attr("stroke", "#000").attr("stroke-width", 2);

// title
const t = svg.append("text").attr("font-family", "Liberation Serif, Times New Roman, serif").attr("fill", "#000");
t.append("tspan").attr("x", 75).attr("y", 31).attr("font-size", 26).text("E");
t.append("tspan").attr("x", 92).attr("y", 37).attr("font-size", 14).text("e");
t.append("tspan").attr("x", 101).attr("y", 31).attr("font-size", 26).text(",");
t.append("tspan").attr("x", 119).attr("y", 31).attr("font-size", 26).text("MeV");

// x title
svg.append("text").attr("x", 573).attr("y", 620).attr("font-family", "Liberation Serif, Times New Roman, serif")
  .attr("font-size", 26).attr("fill", "#000").text("Nrun");

// legend
const lg1 = svg.append("text").attr("x", 409).attr("y", 85).attr("font-family", "Liberation Sans, Arial, sans-serif")
  .attr("font-size", 26).attr("letter-spacing", 2).attr("fill", "#ff1a1a");
lg1.append("tspan").text("red e");
lg1.append("tspan").attr("dx", 1).attr("dy", -12).attr("font-size", 17).attr("letter-spacing", 0).text("+");
const lg2 = svg.append("text").attr("x", 409).attr("y", 117).attr("font-family", "Liberation Sans, Arial, sans-serif")
  .attr("font-size", 26).attr("letter-spacing", 2).attr("fill", "#1a1aff");
lg2.append("tspan").text("blue e");
lg2.append("tspan").attr("dx", 1).attr("dy", -14).attr("font-size", 17).attr("letter-spacing", 0).text("\u2212");
</script>
</body></html>
